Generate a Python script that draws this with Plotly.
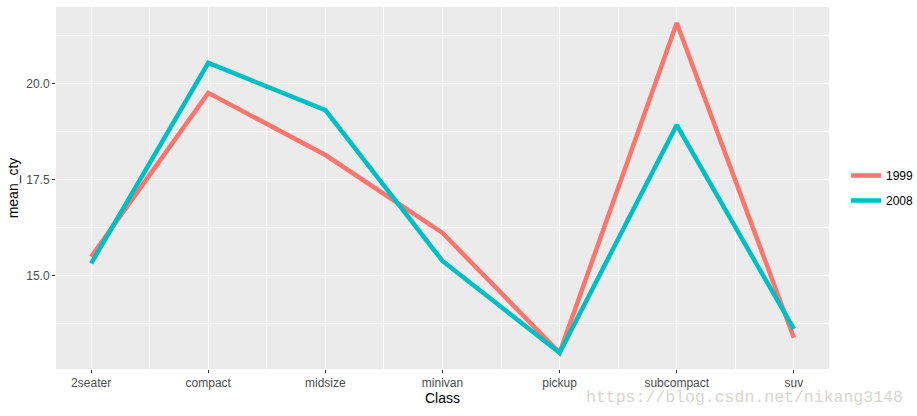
import plotly.graph_objects as go

classes = ["2seater", "compact", "midsize", "minivan", "pickup", "subcompact", "suv"]
years = ["1999", "2008"]
mean_cty_1999 = [15.50, 19.77, 18.15, 16.12, 13.00, 21.59, 13.39]
mean_cty_2008 = [15.33, 20.55, 19.32, 15.39, 13.00, 18.93, 13.62]
colors = ["#F8766D", "#00BFC4"]

xpos = list(range(len(classes)))

fig = go.Figure()
for yr, vals, col in zip(years, [mean_cty_1999, mean_cty_2008], colors):
    fig.add_trace(go.Scatter(x=xpos, y=vals, mode="lines", name=yr, legendgroup=yr,
                             line=dict(color=col, width=4.5)))

W, H = 917, 416
ml, mr, mt, mb = 56, 88, 7, 47

fig.update_layout(
    width=W, height=H,
    margin=dict(l=ml, r=mr, t=mt, b=mb, autoexpand=False),
    paper_bgcolor="white",
    plot_bgcolor="#EBEBEB",
    font=dict(family="Liberation Sans, Arial, sans-serif", color="black"),
    showlegend=True,
    legend=dict(x=1.022, xanchor="left", y=0.5, yanchor="middle",
                bgcolor="rgba(0,0,0,0)", font=dict(size=12, color="black"),
                itemwidth=30, tracegroupgap=6),
)
fig.update_xaxes(
    range=[-0.3, 6.3], tickvals=xpos, ticktext=classes,
    showgrid=True, gridcolor="white", gridwidth=1.1,
    minor=dict(tick0=0.5, dtick=1, showgrid=True, gridcolor="white", gridwidth=0.5),
    ticks="outside", ticklen=3, tickcolor="#333333", tickwidth=1,
    tickfont=dict(size=12, color="#4D4D4D"),
    zeroline=False, showline=False, automargin=False,
    title=dict(text="Class", font=dict(size=14, color="black"), standoff=2),
)
fig.update_yaxes(
    range=[12.578, 22.005], tickvals=[15, 17.5, 20], ticktext=["15.0", "17.5", "20.0"],
    showgrid=True, gridcolor="white", gridwidth=1.1,
    minor=dict(tickvals=[13.75, 16.25, 18.75, 21.25], showgrid=True, gridcolor="white", gridwidth=0.5),
    ticks="outside", ticklen=3, tickcolor="#333333", tickwidth=1,
    tickfont=dict(size=12, color="#4D4D4D"),
    zeroline=False, showline=False, automargin=False,
    title=dict(text="mean_cty", font=dict(size=14, color="black"), standoff=4),
)
fig.add_annotation(text="https://blog.csdn.net/nikang3148", xref="paper", yref="paper",
                   x=1.098, y=-0.078, xanchor="right", yanchor="middle", showarrow=False,
                   font=dict(family="Liberation Mono, DejaVu Sans Mono, monospace", size=16.5, color="#D8D5CE"))

fig.write_html("out.html")
